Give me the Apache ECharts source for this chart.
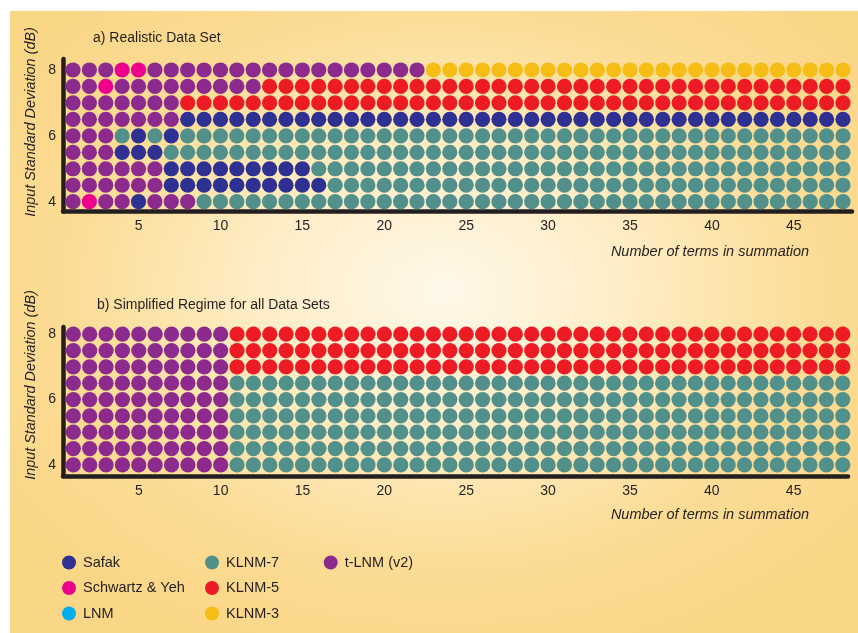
<!DOCTYPE html>
<html>
<head>
<meta charset="utf-8">
<title>Best method by number of terms and input standard deviation</title>
<script src="https://cdn.jsdelivr.net/npm/echarts@6/dist/echarts.min.js"></script>
<style>
  html, body { margin: 0; padding: 0; background: #ffffff; }
  #bg {
    position: absolute; left: 10px; top: 11px; width: 848px; height: 622px;
    background: radial-gradient(ellipse 62% 62% at 51% 45%, #fff8ea 0%, #feedc6 35%, #fcdc95 72%, #fad687 100%);
  }
  #chart { position: absolute; left: 0; top: 0; width: 858px; height: 633px; }
</style>
</head>
<body>
<div id="bg"></div>
<div id="chart"></div>
<script>
// Number of terms in the summation (columns) and input standard deviation in dB (rows, top to bottom)
const terms = [1, 2, 3, 4, 5, 6, 7, 8, 9, 10, 11, 12, 13, 14, 15, 16, 17, 18, 19, 20, 21, 22, 23, 24,
               25, 26, 27, 28, 29, 30, 31, 32, 33, 34, 35, 36, 37, 38, 39, 40, 41, 42, 43, 44, 45, 46, 47, 48];
const sigmaLevels = [8, 7.5, 7, 6.5, 6, 5.5, 5, 4.5, 4];

const xTickLabels = [5, 10, 15, 20, 25, 30, 35, 40, 45];
const yTickLabels = [4, 6, 8];

// Methods, their one-letter codes and colours
const methodNames = ['Safak', 'Schwartz & Yeh', 'LNM', 'KLNM-7', 'KLNM-5', 'KLNM-3', 't-LNM (v2)'];
const methodCodes = ['f', 's', 'l', '7', '5', '3', 't'];
const methodColors = ['#2e3192', '#ec008c', '#00aeef', '#52908b', '#ed1c24', '#f7bd17', '#8c2a8e'];

// Most accurate method per cell, as runs of [code, number of columns], one row per sigma level
const realisticRows = [
  [['t', 3], ['s', 2], ['t', 17], ['3', 26]],
  [['t', 2], ['s', 1], ['t', 9], ['5', 36]],
  [['t', 7], ['5', 41]],
  [['t', 7], ['f', 41]],
  [['t', 3], ['7', 1], ['f', 1], ['7', 1], ['f', 1], ['7', 41]],
  [['t', 3], ['f', 3], ['7', 42]],
  [['t', 6], ['f', 9], ['7', 33]],
  [['t', 6], ['f', 10], ['7', 32]],
  [['t', 1], ['s', 1], ['t', 2], ['f', 1], ['t', 3], ['7', 40]]
];

const simplifiedRows = [
  [['t', 10], ['5', 38]],
  [['t', 10], ['5', 38]],
  [['t', 10], ['5', 38]],
  [['t', 10], ['7', 38]],
  [['t', 10], ['7', 38]],
  [['t', 10], ['7', 38]],
  [['t', 10], ['7', 38]],
  [['t', 10], ['7', 38]],
  [['t', 10], ['7', 38]]
];

// Expand the runs into [term, sigma] points grouped by method code
function cellsByMethod(rows) {
  const out = {};
  methodCodes.forEach(c => { out[c] = []; });
  rows.forEach((runs, r) => {
    let col = 0;
    runs.forEach(([code, count]) => {
      for (let k = 0; k < count; k++) {
        out[code].push([terms[col], sigmaLevels[r]]);
        col++;
      }
    });
  });
  return out;
}

const panels = [cellsByMethod(realisticRows), cellsByMethod(simplifiedRows)];

const ink = '#231f20';
const fontFamily = '"Liberation Sans", Arial, Helvetica, sans-serif';

const series = [];
panels.forEach((cells, p) => {
  methodCodes.forEach((code, m) => {
    series.push({
      type: 'scatter',
      name: methodNames[m],
      xAxisIndex: p,
      yAxisIndex: p,
      symbol: 'circle',
      symbolSize: 15.2,
      itemStyle: { color: methodColors[m], opacity: 1 },
      emphasis: { disabled: true },
      data: cells[code]
    });
  });
});

function xAxisFor(gridIndex, min, max) {
  return {
    gridIndex: gridIndex,
    type: 'value',
    min: min,
    max: max,
    axisLine: { show: true, onZero: false, lineStyle: { color: ink, width: 4.5, cap: 'round' } },
    axisTick: { show: false },
    splitLine: { show: false },
    axisLabel: { customValues: xTickLabels, margin: 8, fontSize: 14, color: ink, fontFamily: fontFamily }
  };
}

function yAxisFor(gridIndex, min, max) {
  return {
    gridIndex: gridIndex,
    type: 'value',
    min: min,
    max: max,
    axisLine: { show: true, onZero: false, lineStyle: { color: ink, width: 4.5, cap: 'round' } },
    axisTick: { show: false },
    splitLine: { show: false },
    axisLabel: { customValues: yTickLabels, margin: 7, fontSize: 14, color: ink, fontFamily: fontFamily }
  };
}

function legendColumn(left, names) {
  return {
    orient: 'vertical',
    left: left,
    top: 555,
    padding: 0,
    itemGap: 10.5,
    itemWidth: 14,
    itemHeight: 14,
    icon: 'circle',
    selectedMode: false,
    data: names,
    textStyle: { fontSize: 14.5, color: ink, fontFamily: fontFamily, lineHeight: 14, padding: [0, 0, 0, 2] }
  };
}

function label(x, y, text, opts) {
  return {
    type: 'text',
    x: x,
    y: y,
    rotation: (opts && opts.rotation) || 0,
    silent: true,
    style: {
      text: text,
      fill: ink,
      font: ((opts && opts.italic) ? 'italic ' : '') + ((opts && opts.size) || 14) + 'px ' + fontFamily,
      align: (opts && opts.align) || 'left',
      verticalAlign: 'middle',
      textAlign: (opts && opts.align) || 'left',
      textVerticalAlign: 'middle'
    }
  };
}

const option = {
  animation: false,
  backgroundColor: 'transparent',
  grid: [
    { left: 63, top: 59, width: 789, height: 152.5, containLabel: false, outerBoundsMode: 'none' },
    { left: 63, top: 327, width: 785, height: 149, containLabel: false, outerBoundsMode: 'none' }
  ],
  xAxis: [xAxisFor(0, 0.39, 48.55), xAxisFor(1, 0.37, 48.32)],
  yAxis: [yAxisFor(0, 3.702, 8.334), yAxisFor(1, 3.66, 8.22)],
  legend: [
    legendColumn(62, ['Safak', 'Schwartz & Yeh', 'LNM']),
    legendColumn(205, ['KLNM-7', 'KLNM-5', 'KLNM-3']),
    legendColumn(323.7, ['t-LNM (v2)'])
  ],
  graphic: [
    label(93, 38, 'a) Realistic Data Set'),
    label(97, 305, 'b) Simplified Regime for all Data Sets'),
    label(31, 122, 'Input Standard Deviation (dB)', { italic: true, align: 'center', rotation: Math.PI / 2, size: 14.4 }),
    label(31, 385, 'Input Standard Deviation (dB)', { italic: true, align: 'center', rotation: Math.PI / 2, size: 14.4 }),
    label(710, 252, 'Number of terms in summation', { italic: true, align: 'center', size: 14.5 }),
    label(710, 515, 'Number of terms in summation', { italic: true, align: 'center', size: 14.5 })
  ],
  series: series
};

const chart = echarts.init(document.getElementById('chart'), null, { renderer: 'canvas' });
chart.setOption(option);
</script>
</body>
</html>
